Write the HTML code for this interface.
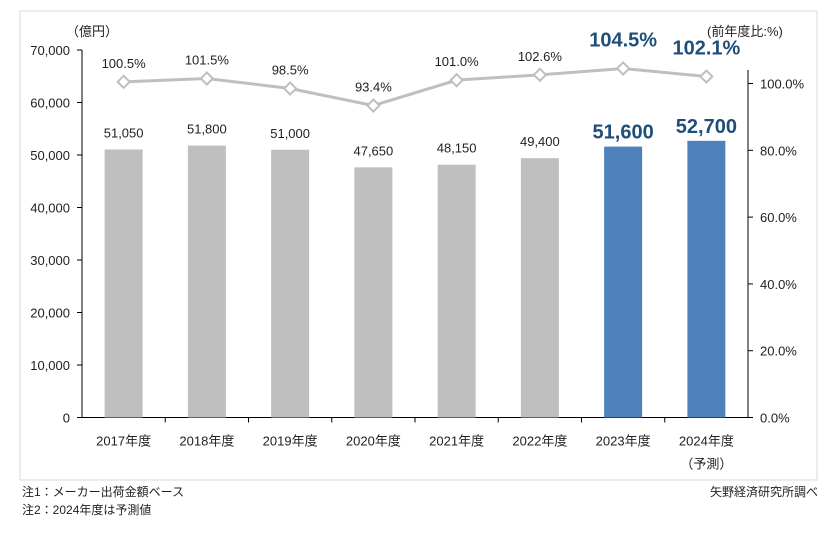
<!DOCTYPE html>
<html><head><meta charset="utf-8"><style>
body{margin:0;background:#fff;font-family:"Liberation Sans","Noto Sans CJK JP",sans-serif;}
svg text{font-family:"Liberation Sans","Noto Sans CJK JP",sans-serif;}
</style></head><body>
<svg id="c" width="830" height="545" xmlns="http://www.w3.org/2000/svg">
<rect x="20" y="11" width="797" height="469" fill="#fff" stroke="#d9d9d9"/>
<text x="66" y="36" font-size="13" fill="#222">（億円）</text>
<text x="707" y="36" font-size="13" fill="#222">(前年度比:%)</text>
<g id="g"></g>
<text x="22" y="496" font-size="12" fill="#222">注1：メーカー出荷金額ベース</text>
<text x="22" y="514" font-size="12" fill="#222">注2：2024年度は予測値</text>
<text x="818" y="496" font-size="12" fill="#222" text-anchor="end">矢野経済研究所調べ</text>
</svg>
<script>
const categories=["2017年度","2018年度","2019年度","2020年度","2021年度","2022年度","2023年度","2024年度"];
const sales=[51050,51800,51000,47650,48150,49400,51600,52700];
const yoy=[100.5,101.5,98.5,93.4,101.0,102.6,104.5,102.1];
const leftTicks=[0,10000,20000,30000,40000,50000,60000,70000];
const rightTicks=[0,20,40,60,80,100];
const NS="http://www.w3.org/2000/svg";
const g=document.getElementById('g');
const X0=82,X1=748,Y0=417.5,Y1=50;
const band=(X1-X0)/categories.length;
const xc=i=>X0+band*(i+0.5);
const yL=v=>Y0-(v/70000)*(Y0-Y1);
const yR=v=>Y0-(v/110)*(Y0-Y1)*(110/ (110)) * (70000/70000) * (1) * (Y0-Y1>0?1:1) * (334/367.5*110/100);
function el(t,a,txt){const e=document.createElementNS(NS,t);for(const k in a)e.setAttribute(k,a[k]);if(txt!=null)e.textContent=txt;g.appendChild(e);return e;}
// y-right: 100% at Y0-334
function yRight(v){return Y0-v*3.34;}
let e;
e=el('line',{x1:X0,y1:Y1,x2:X0,y2:Y0,stroke:'#000'});


e=el('line',{x1:X1,y1:Y1+20,x2:X1,y2:Y0,stroke:'#000'});


e=el('line',{x1:X0,y1:Y0,x2:X1,y2:Y0,stroke:'#000'});


leftTicks.forEach(v=>{const y=yL(v);el('line',{x1:X0-5,y1:y,x2:X0,y2:y,stroke:'#000'});
e=el('text',{x:X0-12,y:y+5,'font-size':13,'text-anchor':'end',fill:'#222'},v.toLocaleString('en-US'));

});
rightTicks.forEach(v=>{const y=yRight(v);el('line',{x1:X1,y1:y,x2:X1+5,y2:y,stroke:'#000'});
e=el('text',{x:X1+12,y:y+5,'font-size':13,fill:'#222'},v.toFixed(1)+'%');

});
for(let i=1;i<categories.length;i++){el('line',{x1:X0+band*i,y1:Y0,x2:X0+band*i,y2:Y0+5,stroke:'#000'});}
categories.forEach((c,i)=>{const x=xc(i),y=yL(sales[i]);const hl=i>=6;
e=el('rect',{x:x-19,y:y,width:38,height:Y0-y,fill:hl?'#4f81bd':'#bfbfbf'});


e=el('text',{x:x,y:y-(hl?8:12),'font-size':hl?20:13,'font-weight':hl?'bold':'normal','text-anchor':'middle',fill:hl?'#1f4e79':'#222'},sales[i].toLocaleString('en-US'));


e=el('text',{x:x,y:Y0+28,'font-size':13,'text-anchor':'middle',fill:'#222'},c);

});
e=el('text',{x:xc(7),y:Y0+51,'font-size':13,'text-anchor':'middle',fill:'#222'},'（予測）');


e=el('polyline',{points:yoy.map((v,i)=>xc(i)+','+yRight(v)).join(' '),fill:'none',stroke:'#bfbfbf','stroke-width':3});


yoy.forEach((v,i)=>{const x=xc(i),y=yRight(v);const hl=i>=6;
e=el('path',{d:`M${x-6},${y}L${x},${y-6}L${x+6},${y}L${x},${y+6}Z`,fill:'#fff',stroke:'#bfbfbf','stroke-width':2});


e=el('text',{x:x,y:y-(hl?22:14),'font-size':hl?20:13,'font-weight':hl?'bold':'normal','text-anchor':'middle',fill:hl?'#1f4e79':'#222'},v.toFixed(1)+'%');

});
</script>
</body></html>
